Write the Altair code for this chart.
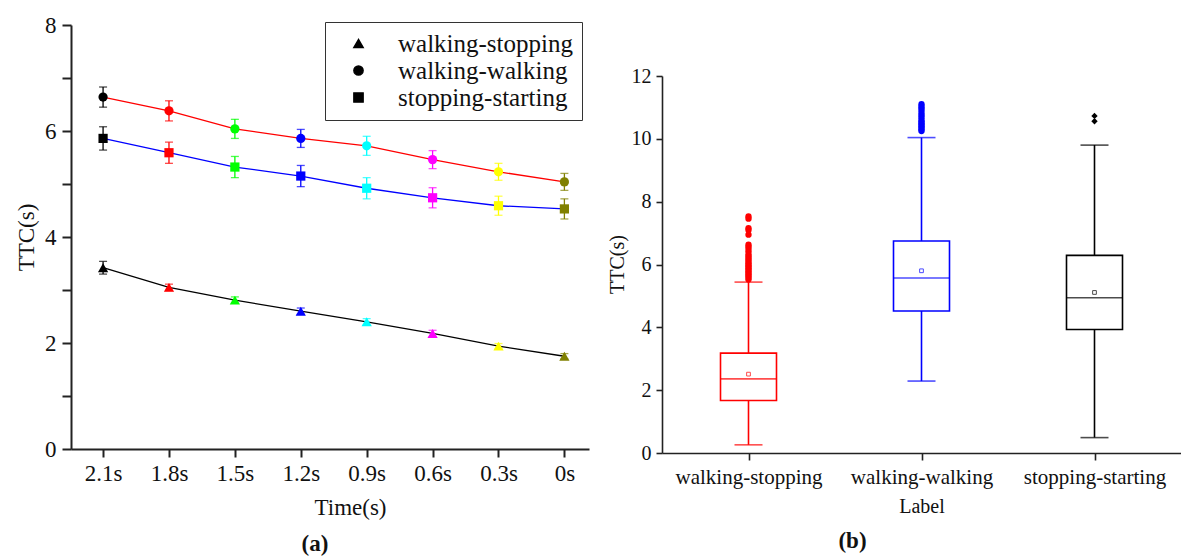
import altair as alt
import pandas as pd

FONT = "Liberation Serif"

# ---------------- panel (a) data ----------------
time_labels = ["2.1s", "1.8s", "1.5s", "1.2s", "0.9s", "0.6s", "0.3s", "0s"]
time_vals = [2.1, 1.8, 1.5, 1.2, 0.9, 0.6, 0.3, 0.0]
point_colors = ["#000000", "#ff0000", "#00ff00", "#0000ff", "#00ffff", "#ff00ff", "#ffff00", "#808000"]

series_names = ["walking-stopping", "walking-walking", "stopping-starting"]
series_line_colors = ["#000000", "#ff0000", "#0000ff"]
series_shapes = ["triangle-up", "circle", "square"]
series_sizes = [105, 85, 85]

ws_mean = [3.42, 3.05, 2.81, 2.60, 2.40, 2.18, 1.94, 1.75]
ws_err = [0.12, 0.06, 0.06, 0.06, 0.06, 0.06, 0.05, 0.05]
ww_mean = [6.64, 6.38, 6.04, 5.86, 5.72, 5.46, 5.23, 5.04]
ww_err = [0.19, 0.19, 0.18, 0.17, 0.18, 0.17, 0.16, 0.16]
ss_mean = [5.86, 5.59, 5.32, 5.15, 4.92, 4.74, 4.59, 4.53]
ss_err = [0.22, 0.20, 0.20, 0.20, 0.20, 0.19, 0.18, 0.19]

# ---------------- panel (b) data ----------------
box_labels = ["walking-stopping", "walking-walking", "stopping-starting"]
box_colors = ["#ff0000", "#0000ff", "#000000"]
box_low = [0.26, 2.29, 0.49]
box_q1 = [1.67, 4.52, 3.93]
box_median = [2.36, 5.57, 4.94]
box_q3 = [3.18, 6.75, 6.29]
box_high = [5.44, 10.04, 9.80]
box_mean = [2.51, 5.80, 5.11]
outliers_ws = [5.52, 5.58, 5.63, 5.68, 5.73, 5.78, 5.83, 5.88, 5.93, 5.98, 6.03, 6.08,
               6.14, 6.20, 6.26, 6.33, 6.42, 6.50, 6.57, 6.63, 6.95, 7.10, 7.16, 7.46, 7.53]
outliers_ww = [10.25, 10.30, 10.35, 10.40, 10.45, 10.50, 10.55, 10.60, 10.68, 10.75,
               10.82, 10.90, 10.97, 11.03, 11.10]
outliers_ss = [10.56, 10.73]
outlier_shapes = ["circle", "circle", "diamond"]

# ---------------- build tables ----------------
rows = []
for name, lc, sz, means, errs in zip(series_names, series_line_colors, series_sizes,
                                     [ws_mean, ww_mean, ss_mean], [ws_err, ww_err, ss_err]):
    for t, tl, pc, m, e in zip(time_vals, time_labels, point_colors, means, errs):
        rows.append({"series": name, "t": t, "tlabel": tl, "value": m, "msize": sz,
                     "lo": m - e, "hi": m + e, "pcolor": pc, "lcolor": lc})
left_df = pd.DataFrame(rows)

box_df = pd.DataFrame({"label": box_labels, "color": box_colors, "low": box_low,
                       "q1": box_q1, "median": box_median, "q3": box_q3,
                       "high": box_high, "mean": box_mean})
orows = []
for lab, col, vals in zip(box_labels, box_colors, [outliers_ws, outliers_ww, outliers_ss]):
    for v in vals:
        orows.append({"label": lab, "color": col, "value": v})
out_df = pd.DataFrame(orows)

# ---------------- panel (a) ----------------
xs = alt.Scale(domain=[-0.112, 2.246], reverse=True, nice=False, zero=False)
xa = alt.Axis(values=time_vals, labelExpr="format(datum.value, '.1~f') + 's'",
              title="Time(s)", titleX=279, titleY=58, titleBaseline="middle",
              titleFontSize=23, labelFontSize=23, tickSize=8, labelPadding=5,
              domainWidth=2, tickWidth=2)
ys = alt.Scale(domain=[0, 8], nice=False)
ya = alt.Axis(values=list(range(9)), labelExpr="datum.value % 2 == 0 ? datum.label : ''",
              title="TTC(s)", titleX=-45, titleY=212, titleBaseline="middle",
              titleFontSize=23, labelFontSize=23, tickSize=9, labelPadding=6,
              domainWidth=2, tickWidth=2)

base_a = alt.Chart(left_df)
lines = base_a.mark_line(strokeWidth=1.3).encode(
    x=alt.X("t:Q", scale=xs, axis=xa),
    y=alt.Y("value:Q", scale=ys, axis=ya),
    color=alt.Color("lcolor:N", scale=None),
    detail="series:N",
)
err_rule = base_a.mark_rule(strokeWidth=1.3).encode(
    x="t:Q", y="lo:Q", y2="hi:Q", color=alt.Color("pcolor:N", scale=None))
cap_lo = base_a.mark_tick(orient="horizontal", size=8, thickness=1.3).encode(
    x="t:Q", y="lo:Q", color=alt.Color("pcolor:N", scale=None))
cap_hi = base_a.mark_tick(orient="horizontal", size=8, thickness=1.3).encode(
    x="t:Q", y="hi:Q", color=alt.Color("pcolor:N", scale=None))
pts = base_a.mark_point(filled=True, opacity=1).encode(
    x="t:Q", y="value:Q",
    color=alt.Color("pcolor:N", scale=None),
    size=alt.Size("msize:Q", scale=None),
    shape=alt.Shape("series:N", scale=alt.Scale(domain=series_names, range=series_shapes),
                    legend=alt.Legend(title=None, orient="none", legendX=254, legendY=-3,
                                      strokeColor="#333", fillColor="white", padding=9,
                                      symbolOffset=12, labelOffset=27, rowPadding=1,
                                      labelFont=FONT, labelFontSize=25, labelColor="#111",
                                      symbolSize=85, symbolFillColor="black",
                                      symbolStrokeColor="black", labelLimit=300)),
)
panel_a = alt.layer(lines, err_rule, cap_lo, cap_hi, pts).properties(
    width=518, height=424,
    title=alt.TitleParams("(a)", orient="bottom", fontSize=23, fontWeight="bold",
                          font=FONT, color="#111", dx=-15, offset=14))

# ---------------- panel (b) ----------------
bxs = alt.Scale(type="point", domain=box_labels, padding=0.5)
bxa = alt.Axis(title="Label", labelAngle=0, labelFontSize=21, titleFontSize=20,
               tickSize=7, labelPadding=6, titleY=53, titleBaseline="middle",
               domainWidth=1.6, tickWidth=1.6)
bys = alt.Scale(domain=[0, 12], nice=False, range=[428, 51])
bya = alt.Axis(values=list(range(0, 13, 2)), title="TTC(s)", titleX=-45, titleY=239,
               titleBaseline="middle", titleFontSize=20, labelFontSize=20, tickSize=6,
               labelPadding=5, domainWidth=1.6, tickWidth=1.6)

base_b = alt.Chart(box_df)
whisk = base_b.mark_rule(strokeWidth=1.6).encode(
    x=alt.X("label:N", scale=bxs, axis=bxa),
    y=alt.Y("low:Q", scale=bys, axis=bya), y2="high:Q",
    color=alt.Color("color:N", scale=None))
box = base_b.mark_bar(size=56, fill="white", strokeWidth=1.6).encode(
    x="label:N", y="q1:Q", y2="q3:Q", stroke=alt.Stroke("color:N", scale=None))
med = base_b.mark_tick(orient="horizontal", size=56, thickness=1.6).encode(
    x="label:N", y="median:Q", color=alt.Color("color:N", scale=None))
cap_low = base_b.mark_tick(orient="horizontal", size=28, thickness=1.6).encode(
    x="label:N", y="low:Q", color=alt.Color("color:N", scale=None))
cap_high = base_b.mark_tick(orient="horizontal", size=28, thickness=1.6).encode(
    x="label:N", y="high:Q", color=alt.Color("color:N", scale=None))
mean_pt = base_b.mark_point(shape="square", filled=False, size=14, strokeWidth=1).encode(
    x="label:N", y="mean:Q", color=alt.Color("color:N", scale=None))
outl = alt.Chart(out_df).mark_point(filled=True, size=40, opacity=1).encode(
    x="label:N", y="value:Q", color=alt.Color("color:N", scale=None),
    shape=alt.Shape("label:N", scale=alt.Scale(domain=box_labels, range=outlier_shapes),
                    legend=None))
panel_b = alt.layer(whisk, box, med, cap_low, cap_high, mean_pt, outl).properties(
    width=519, height=428,
    title=alt.TitleParams("(b)", orient="bottom", fontSize=23, fontWeight="bold",
                          font=FONT, color="#111", dx=-69, offset=14))

chart = alt.hconcat(panel_a, panel_b, spacing=73, bounds="flush").resolve_scale(
    color="independent", shape="independent", size="independent",
    x="independent", y="independent"
).properties(
    padding={"left": 15, "top": 14, "right": 0, "bottom": 0},
    background="white"
).configure_view(stroke=None).configure_axis(
    grid=False, labelFont=FONT, titleFont=FONT, labelColor="#111", titleColor="#111",
    titleFontWeight="normal", domainColor="#222", tickColor="#222"
)

chart.save("out.html", embed_options={"renderer": "svg", "actions": False})
